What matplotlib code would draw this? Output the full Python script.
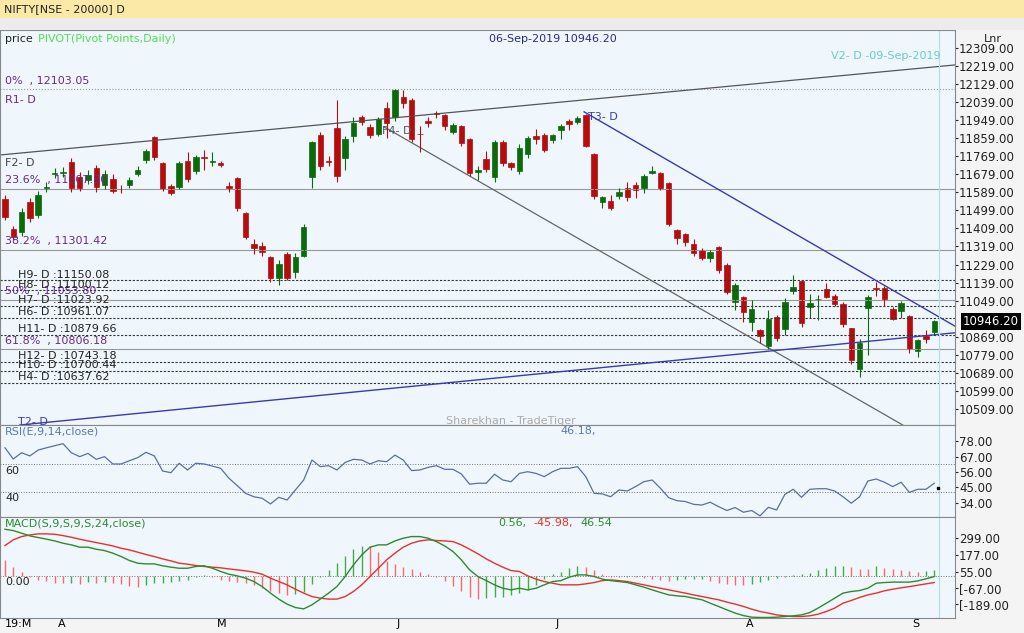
import matplotlib
matplotlib.use("Agg")
import matplotlib.pyplot as plt
from matplotlib.patches import Rectangle
import numpy as np

# ---- price data (daily candles, Mar-2019 .. 06-Sep-2019) ----
opens = [11556, 11406, 11391, 11541, 11476, 11611, 11680, 11685, 11740, 11665,
         11650, 11710, 11626, 11655, 11606, 11626, 11680, 11750, 11865, 11735,
         11621, 11616, 11745, 11695, 11765, 11740, 11735, 11618, 11660, 11486,
         11331, 11321, 11267, 11162, 11281, 11192, 11272, 11665, 11875, 11745,
         11910, 11760, 11870, 11965, 11915, 11880, 12010, 11965, 12064, 12049,
         11880, 11945, 11980, 11975, 11890, 11920, 11855, 11690, 11755, 11665,
         11840, 11735, 11695, 11780, 11870, 11875, 11850, 11900, 11945, 11940,
         11975, 11780, 11541, 11546, 11571, 11611, 11626, 11611, 11685, 11685,
         11636, 11401, 11381, 11331, 11301, 11262, 11316, 11227, 11042, 11067,
         10942, 10902, 10823, 10967, 10907, 11097, 11147, 11017, 11055, 11107,
         11072, 11032, 10912, 10708, 11012, 11112, 11112, 11007, 10997, 10972,
         10798, 10873, 10893]
closes = [11466, 11366, 11491, 11461, 11576, 11615, 11682, 11688, 11611, 11611,
          11675, 11616, 11680, 11596, 11603, 11650, 11700, 11795, 11765, 11606,
          11586, 11735, 11655, 11765, 11762, 11742, 11725, 11611, 11511, 11366,
          11311, 11291, 11162, 11232, 11162, 11267, 11416, 11840, 11720, 11742,
          11670, 11855, 11935, 11940, 11875, 11955, 11935, 12099, 12034, 11855,
          11878, 11935, 11978, 11920, 11925, 11835, 11685, 11700, 11705, 11840,
          11735, 11715, 11810, 11860, 11855, 11800, 11875, 11920, 11930, 11960,
          11820, 11571, 11566, 11511, 11591, 11566, 11601, 11670, 11695, 11611,
          11431, 11361, 11341, 11286, 11262, 11291, 11202, 11092, 11127, 10992,
          11007, 10873, 10957, 10863, 11042, 11117, 10937, 11037, 11058, 11067,
          11032, 10932, 10753, 10838, 11067, 11105, 11057, 10957, 11037, 10808,
          10853, 10858, 10946.2]
highs = [11575, 11420, 11510, 11560, 11595, 11640, 11710, 11715, 11760, 11690,
         11700, 11725, 11700, 11680, 11625, 11665, 11720, 11805, 11870, 11740,
         11630, 11745, 11790, 11775, 11800, 11790, 11745, 11640, 11665, 11490,
         11355, 11340, 11270, 11250, 11290, 11285, 11430, 11845, 11890, 11770,
         12050, 11870, 11965, 11975, 11930, 11965, 12040, 12103, 12100, 12060,
         11920, 11965, 11995, 11980, 11935, 11925, 11860, 11720, 11795, 11850,
         11850, 11740, 11830, 11870, 11905, 11885, 11880, 11930, 11955, 11970,
         11980, 11785, 11570, 11575, 11610, 11640, 11640, 11680, 11720, 11690,
         11640, 11405, 11385, 11355, 11310, 11300, 11320, 11235, 11135, 11070,
         11050, 10910, 11000, 10975, 11060, 11175, 11150, 11080, 11075, 11135,
         11080, 11040, 10915, 10860, 11075, 11140, 11120, 11015, 11045, 10975,
         10860, 10905, 10950]
lows = [11450, 11350, 11370, 11440, 11460, 11590, 11660, 11665, 11590, 11595,
        11630, 11590, 11605, 11585, 11585, 11610, 11670, 11735, 11750, 11595,
        11575, 11605, 11640, 11680, 11700, 11720, 11715, 11590, 11495, 11355,
        11280, 11270, 11140, 11125, 11150, 11160, 11265, 11610, 11700, 11720,
        11640, 11700, 11840, 11925, 11860, 11870, 11860, 11945, 12010, 11840,
        11790, 11915, 11960, 11900, 11880, 11820, 11670, 11650, 11690, 11640,
        11720, 11700, 11680, 11760, 11830, 11790, 11835, 11855, 11900, 11930,
        11815, 11555, 11510, 11500, 11555, 11545, 11560, 11585, 11680, 11600,
        11420, 11330, 11320, 11270, 11250, 11240, 11185, 11080, 11000, 10940,
        10900, 10840, 10810, 10850, 10880, 11080, 10920, 10960, 10950, 11060,
        11020, 10920, 10735, 10670, 10780, 11070, 11020, 10950, 10960, 10790,
        10770, 10840, 10880]

rsi = [73.2, 65.2, 69.7, 67.4, 71.6, 73.2, 74.7, 76.1, 69.7, 66.9,
       69.2, 65.0, 66.9, 61.7, 61.7, 64.0, 66.2, 70.0, 67.4, 56.7,
       55.5, 62.2, 57.4, 62.2, 61.7, 60.2, 58.6, 51.5, 46.3, 40.8,
       38.4, 37.3, 33.3, 38.0, 36.1, 43.2, 50.3, 64.5, 59.8, 60.5,
       57.4, 62.8, 65.0, 64.5, 61.7, 64.0, 63.3, 68.0, 64.5, 57.0,
       57.4, 59.3, 60.5, 57.9, 57.9, 54.6, 47.3, 48.0, 48.0, 54.4,
       50.3, 49.1, 55.0, 56.2, 55.0, 52.7, 56.2, 58.6, 58.6, 59.8,
       52.7, 40.8, 40.4, 38.4, 43.2, 42.5, 45.6, 49.1, 50.3, 44.4,
       37.7, 35.6, 35.0, 33.0, 32.5, 34.5, 31.4, 28.6, 30.7, 27.4,
       28.6, 24.8, 30.9, 29.0, 40.1, 43.7, 38.0, 43.7, 44.1, 44.1,
       42.5, 38.4, 33.8, 38.4, 49.6, 51.0, 48.7, 45.6, 48.7, 41.5,
       43.7, 43.7, 48.0]

macd = [343, 333, 314, 294, 282, 270, 257, 240, 228, 211,
        211, 196, 186, 167, 142, 113, 93, 88, 88, 74,
        64, 56, 56, 69, 74, 56, 32, 12, 0, -17,
        -42, -79, -127, -171, -208, -233, -243, -213, -171, -127,
        -79, -5, 81, 154, 211, 228, 228, 257, 277, 289,
        289, 277, 252, 220, 179, 118, 44, -5, -35, -66,
        -91, -103, -91, -103, -91, -66, -42, -35, -10, 7,
        7, -5, -24, -35, -42, -49, -66, -83, -103, -122,
        -140, -147, -152, -164, -176, -201, -225, -250, -274, -292,
        -304, -306, -306, -304, -299, -294, -287, -270, -237, -201,
        -164, -127, -115, -108, -91, -54, -49, -46, -46, -46,
        -37, -22, -5]
signal = [223, 265, 289, 301, 309, 309, 306, 296, 284, 270,
          257, 245, 233, 220, 203, 191, 174, 157, 142, 125,
          110, 93, 86, 76, 69, 64, 59, 51, 44, 37,
          27, 12, -17, -42, -66, -98, -127, -152, -164, -171,
          -171, -152, -115, -66, -5, 56, 118, 167, 211, 240,
          257, 265, 260, 257, 252, 228, 196, 162, 125, 93,
          64, 39, 32, 0, -24, -42, -54, -66, -66, -66,
          -59, -49, -35, -30, -35, -42, -54, -66, -79, -91,
          -103, -115, -127, -140, -152, -164, -176, -193, -208, -225,
          -245, -262, -274, -287, -294, -299, -299, -294, -282, -262,
          -237, -201, -181, -159, -140, -127, -110, -98, -88, -79,
          -69, -59, -49]

# pivot / fibonacci levels
pivot_names = ["H9", "H8", "H7", "H6", "H11", "H12", "H10", "H4"]
pivot_levels = [11150.08, 11100.12, 11023.92, 10961.07, 10879.66, 10743.18, 10700.44, 10637.62]
fib_names = ["0%", "23.6%", "38.2%", "50%", "61.8%"]
fib_levels = [12103.05, 11607.80, 11301.42, 11053.80, 10806.18]

# trendlines as (index, price) end points
upper_line = ([-0.6, 118.4], [11775, 12239])
fall_line = ([45.7, 108.2], [11915, 10429])
t3_line = ([69.8, 118.0], [11990, 10838])
t2_line = ([1.8, 118.0], [10429, 10903])

price_ticks = [12309, 12219, 12129, 12039, 11949, 11859, 11769, 11679, 11589, 11499,
               11409, 11319, 11229, 11139, 11049, 10869, 10779, 10689, 10599, 10509]
rsi_ticks = [78, 67, 56, 45, 34]
macd_tick_vals = [279, 154, 32, -88, -208]
macd_tick_labels = ["299.00", "177.00", "55.00", "[-67.00", "[-189.00"]
month_labels = ["19:M", "A", "M", "J", "J", "A", "S"]
month_idx = [0, 6.4, 25.5, 47.2, 66.3, 89.3, 109.3]

W, H = 1024, 633
BG = "#eff7fd"
RED = "#b50d0d"
GREEN = "#0b6a0b"
FS = 8
n = len(closes)
x = np.arange(n)

fig = plt.figure(figsize=(W / 100, H / 100), dpi=100)
fig.patch.set_facecolor("#f4f4f4")
fig.patches.append(Rectangle((0, 1 - 18 / H), 1, 18 / H, transform=fig.transFigure,
                             facecolor="#fbe9a8", edgecolor="none"))
fig.patches.append(Rectangle((0, 1 - 30 / H), 1, 12 / H, transform=fig.transFigure,
                             facecolor="#ececec", edgecolor="none"))
fig.text(4 / W, 1 - 9 / H, "NIFTY[NSE - 20000] D", fontsize=FS, va="center", color="#222")


def mk_ax(top, bottom):
    r = 955 / W
    a = fig.add_axes([0, 1 - bottom / H, r, (bottom - top) / H])
    a.set_facecolor(BG)
    a.set_xlim(-0.6, 114.5)
    for s in a.spines.values():
        s.set_color("#888")
    a.yaxis.tick_right()
    a.tick_params(axis="y", labelsize=8.5, length=2, pad=1, colors="#222")
    a.tick_params(axis="x", bottom=False, labelbottom=False)
    return a


ax = mk_ax(30, 425)
ax_rsi = mk_ax(425, 517)
ax_macd = mk_ax(517, 618)

# ---- main price panel ----
ax.set_ylim(10429, 12398)
ax.set_yticks(price_ticks)
ax.set_yticklabels([f"{v}.00" for v in price_ticks])
for lv in fib_levels:
    ax.axhline(lv, color="#999", lw=0.8, ls=":" if lv == fib_levels[0] else "-")
for lv in pivot_levels:
    ax.axhline(lv, color="#333", lw=0.8, ls=(0, (2, 1.5)))
for name, lv in zip(fib_names, fib_levels):
    ax.text(0, lv + 18, f"{name}  , {lv:.2f}", fontsize=FS, color="#6a2a8a", va="bottom")
for name, lv in zip(pivot_names, pivot_levels):
    ax.text(1.6, lv + 4, f"{name}- D :{lv:.2f}", fontsize=FS, color="#222", va="bottom")
ax.text(0, 12075, "R1- D", fontsize=FS, color="#6a2a8a", va="top")
ax.text(0, 11760, "F2- D", fontsize=FS, color="#444", va="top")

ax.plot(*upper_line, color="#555", lw=0.9)
ax.plot(*fall_line, color="#666", lw=0.9)
ax.plot(*t3_line, color="#3a3ab8", lw=1)
ax.plot(*t2_line, color="#3a3ab8", lw=1)
ax.text(45.5, 11895, "F4- D", fontsize=FS, color="#555", va="center")
ax.text(70.3, 11965, "T3- D", fontsize=FS, color="#3a3ab8", va="center")
ax.text(1.6, 10445, "T2- D", fontsize=FS, color="#3a3ab8", va="center")

for i in range(n):
    c = GREEN if closes[i] >= opens[i] else RED
    ax.vlines(x[i], lows[i], highs[i], color=c, lw=0.8)
    lo, hi = sorted([opens[i], closes[i]])
    ax.add_patch(Rectangle((x[i] - 0.33, lo), 0.66, max(hi - lo, 4), facecolor=c, edgecolor=c, lw=0.5))

for a in (ax, ax_rsi, ax_macd):
    a.axvline(n - 0.4, color="#b8dfe8", lw=0.9)
ax.text(n - 0.2, 12245, "V2- D -09-Sep-2019", fontsize=FS, color="#66cccc", ha="right", va="bottom")
ax.text(0, 12380, "price", fontsize=FS, color="#222", va="top")
ax.text(4, 12380, "PIVOT(Pivot Points,Daily)", fontsize=FS, color="#55dd55", va="top")
ax.text(66, 12380, "06-Sep-2019 10946.20", fontsize=FS, color="#2a2a8a", ha="center", va="top")
ax.text(118, 12380, "Lnr", fontsize=FS, color="#222", va="top", clip_on=False)
ax.text(61, 10450, "Sharekhan - TradeTiger", fontsize=FS, color="#aaaaaa", ha="center", va="center")
ax.text(1.008, 10946.2, "10946.20", transform=ax.get_yaxis_transform(), fontsize=8.5, color="white",
        va="center", bbox=dict(facecolor="black", edgecolor="none", pad=1.5), clip_on=False)

# ---- RSI panel ----
ax_rsi.set_ylim(24, 89.4)
ax_rsi.set_yticks(rsi_ticks)
ax_rsi.set_yticklabels([f"{v:.2f}" for v in rsi_ticks])
ax_rsi.axhline(61.5, color="#777", lw=0.7, ls=":")
ax_rsi.axhline(42.0, color="#777", lw=0.7, ls=":")
ax_rsi.text(0, 60.5, "60", fontsize=FS, color="#222", va="top")
ax_rsi.text(0, 41.0, "40", fontsize=FS, color="#222", va="top")
ax_rsi.plot(x, rsi, color="#5a6fa0", lw=0.9)
ax_rsi.plot(x[-1] + 0.4, 44.5, marker="s", ms=1.5, color="black")
ax_rsi.text(0, 88.5, "RSI(E,9,14,close)", fontsize=FS, color="#5a7ab0", va="top")
ax_rsi.text(67, 88.5, "46.18,", fontsize=FS, color="#5a7ab0", va="top")

# ---- MACD panel ----
hist = np.array(macd) - np.array(signal)
ax_macd.set_ylim(-310, 433)
ax_macd.set_yticks(macd_tick_vals)
ax_macd.set_yticklabels(macd_tick_labels)
ax_macd.axhline(0, color="#777", lw=0.7, ls=":")
hcol = ["#44aa44" if i > 0 and hist[i] >= hist[i - 1] else "#ff6666" for i in range(n)]
ax_macd.vlines(x, 0, hist, colors=hcol, lw=1)
ax_macd.plot(x, signal, color="#e8302a", lw=1)
ax_macd.plot(x, macd, color="#2f8a2f", lw=1)
ax_macd.text(0, -10, "0.00", fontsize=FS, color="#222", va="top")
ax_macd.text(0, 425, "MACD(S,9,S,9,S,24,close)", fontsize=FS, color="#2f8a2f", va="top")
ax_macd.text(59.5, 425, "0.56,", fontsize=FS, color="#2f8a2f", va="top")
ax_macd.text(63.7, 425, "-45.98,", fontsize=FS, color="#e8302a", va="top")
ax_macd.text(69.3, 425, "46.54", fontsize=FS, color="#2f8a2f", va="top")

ax_macd.tick_params(axis="x", bottom=True, labelbottom=True, labelsize=FS, length=0, pad=1)
ax_macd.set_xticks(month_idx)
ax_macd.set_xticklabels(month_labels, ha="left")

fig.savefig("out.png", dpi=100, facecolor=fig.get_facecolor())
